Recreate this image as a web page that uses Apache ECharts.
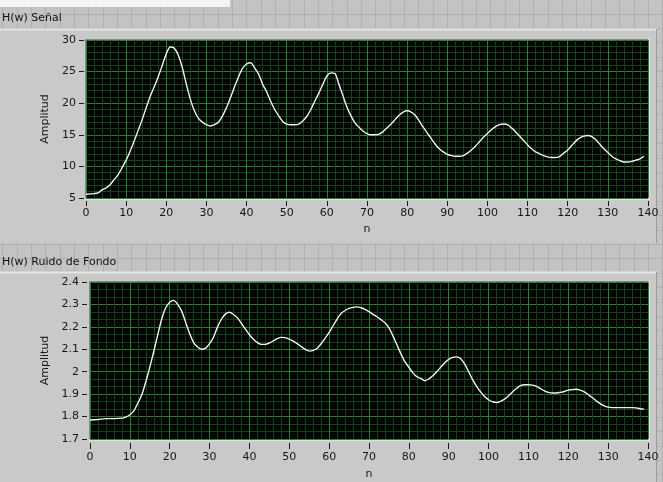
<!DOCTYPE html>
<html>
<head>
<meta charset="utf-8">
<script src="https://cdn.jsdelivr.net/npm/echarts@6/dist/echarts.min.js"></script>
<style>
  html, body { margin: 0; padding: 0; background: #c3c3c3; }
  #chart { width: 663px; height: 482px; }
</style>
</head>
<body>
<div id="chart"></div>
<script>
// Upper graph: H(w) of the signal, [n, amplitude]
const signalPoints = [
  [0,5.6],[2,5.7],[3,5.8],[4,6.3],[5,6.6],[6,7.1],[7,7.9],[8,8.7],[9,9.8],
  [10,11.0],[11,12.4],[12,14.0],[13,15.7],[14,17.4],[15,19.3],[16,21.1],[17,22.6],[18,24.2],[19,26.0],
  [20,27.8],[21,28.9],[22,28.7],[23,27.6],[24,25.6],[25,23.0],[26,20.6],[27,18.8],[28,17.6],[29,17.0],
  [30,16.6],[31,16.4],[32,16.6],[33,17.0],[34,18.0],[35,19.3],[36,20.9],[37,22.6],[38,24.2],[39,25.5],
  [40,26.2],[41,26.4],[42,25.6],[43,24.6],[44,23.0],[45,21.8],[46,20.3],[47,19.0],[48,18.0],[49,17.1],
  [50,16.7],[51,16.6],[52,16.6],[53,16.7],[54,17.2],[55,17.9],[56,19.0],[57,20.3],[58,21.6],[59,23.0],
  [60,24.3],[61,24.8],[62,24.7],[63,23.0],[64,21.2],[65,19.4],[66,18.0],[67,16.9],[68,16.2],[69,15.6],
  [70,15.2],[71,15.0],[72,15.0],[73,15.1],[74,15.5],[75,16.1],[76,16.7],[77,17.4],[78,18.1],[79,18.6],
  [80,18.8],[81,18.6],[82,18.1],[83,17.2],[84,16.2],[85,15.3],[86,14.4],[87,13.5],[88,12.8],[89,12.3],
  [90,11.9],[91,11.7],[92,11.6],[93,11.6],[94,11.7],[95,12.1],[96,12.6],[97,13.2],[98,13.9],[99,14.6],
  [100,15.2],[101,15.8],[102,16.3],[103,16.6],[104,16.7],[105,16.6],[106,16.1],[107,15.5],[108,14.8],[109,14.1],
  [110,13.4],[111,12.8],[112,12.3],[113,12.0],[114,11.7],[115,11.5],[116,11.4],[117,11.4],[118,11.6],[119,12.1],
  [120,12.6],[121,13.3],[122,14.0],[123,14.5],[124,14.8],[125,14.9],[126,14.7],[127,14.2],[128,13.5],[129,12.8],
  [130,12.2],[131,11.6],[132,11.2],[133,10.9],[134,10.7],[135,10.7],[136,10.8],[137,11.0],[138,11.2],[139,11.6]
];

// Lower graph: H(w) of the background noise, [n, amplitude]
const noisePoints = [
  [0,1.785],[2,1.787],[4,1.791],[6,1.791],[8,1.793],[9,1.798],
  [10,1.808],[11,1.825],[12,1.86],[13,1.897],[14,1.955],[15,2.02],[16,2.09],[17,2.165],[18,2.235],[19,2.285],
  [20,2.31],[21,2.318],[22,2.3],[23,2.27],[24,2.22],[25,2.17],[26,2.13],[27,2.11],[28,2.1],[29,2.105],
  [30,2.125],[31,2.155],[32,2.2],[33,2.235],[34,2.258],[35,2.265],[36,2.255],[37,2.24],[38,2.215],[39,2.19],
  [40,2.165],[41,2.145],[42,2.13],[43,2.122],[44,2.122],[45,2.128],[46,2.138],[47,2.148],[48,2.153],[49,2.152],
  [50,2.145],[51,2.136],[52,2.125],[53,2.112],[54,2.1],[55,2.092],[56,2.095],[57,2.105],[58,2.125],[59,2.15],
  [60,2.175],[61,2.205],[62,2.235],[63,2.26],[64,2.273],[65,2.282],[66,2.287],[67,2.289],[68,2.285],[69,2.278],
  [70,2.268],[71,2.256],[72,2.245],[73,2.232],[74,2.218],[75,2.195],[76,2.16],[77,2.12],[78,2.08],[79,2.045],
  [80,2.02],[81,1.995],[82,1.978],[83,1.97],[84,1.96],[85,1.968],[86,1.982],[87,2.0],[88,2.02],[89,2.04],
  [90,2.055],[91,2.064],[92,2.066],[93,2.058],[94,2.035],[95,2.0],[96,1.965],[97,1.935],[98,1.91],[99,1.89],
  [100,1.875],[101,1.866],[102,1.863],[103,1.868],[104,1.878],[105,1.892],[106,1.91],[107,1.925],[108,1.938],[109,1.942],
  [110,1.942],[111,1.94],[112,1.935],[113,1.925],[114,1.915],[115,1.908],[116,1.905],[117,1.905],[118,1.908],[119,1.912],
  [120,1.918],[121,1.92],[122,1.922],[123,1.918],[124,1.91],[125,1.898],[126,1.885],[127,1.87],[128,1.858],[129,1.848],
  [130,1.842],[131,1.84],[132,1.84],[133,1.84],[134,1.84],[135,1.84],[136,1.84],[137,1.839],[138,1.835],[139,1.833]
];

const graphTitles = ['H(w) Señal', 'H(w) Ruido de Fondo'];
const xName = 'n';
const yName = 'Amplitud';
const xRange = { min: 0, max: 140, interval: 10 };
const signalRange = { min: 5, max: 30, interval: 5 };
const noiseRange = { min: 1.7, max: 2.4, interval: 0.1 };

const FONT = 'DejaVu Sans';
const W = 663, H = 482;

// front panel backdrop: grey with a faint alignment grid, plus the two raised graph frames
const backdrop = [];
backdrop.push({ type: 'rect', shape: { x: 0, y: 0, width: W, height: H }, style: { fill: '#c3c3c3' }, z: -30 });
for (let x = 2.3; x < W; x += 14.35) {
  const px = Math.round(x) + 0.5;
  backdrop.push({ type: 'line', shape: { x1: px, y1: 0, x2: px, y2: H }, style: { stroke: '#b0b0b0', lineWidth: 1 }, z: -29 });
}
for (let y = 13.6 - 14.4; y < H; y += 14.4) {
  const py = Math.round(y) + 0.5;
  backdrop.push({ type: 'line', shape: { x1: 0, y1: py, x2: W, y2: py }, style: { stroke: '#b0b0b0', lineWidth: 1 }, z: -29 });
}
backdrop.push({ type: 'rect', shape: { x: 0, y: 0, width: 230, height: 7 }, style: { fill: '#f4f4f4' }, z: -28 });
function frame(y, h) {
  backdrop.push({ type: 'rect', shape: { x: 0, y: y, width: 657, height: h }, style: { fill: '#c9c9c9' }, z: -27 });
  backdrop.push({ type: 'line', shape: { x1: 0, y1: y + 0.5, x2: 657, y2: y + 0.5 }, style: { stroke: '#e6e6e6', lineWidth: 2 }, z: -26 });
  backdrop.push({ type: 'line', shape: { x1: 656.5, y1: y, x2: 656.5, y2: y + h }, style: { stroke: '#9c9c9c', lineWidth: 1 }, z: -26 });
}
frame(29, 214);
frame(272, 210);
// light inset edge along the right and bottom of each plot area
function plotEdge(x, y, w, h) {
  backdrop.push({ type: 'rect', shape: { x: x - 1, y: y - 1, width: w + 3, height: h + 3 }, style: { fill: '#e2e2e2' }, z: -25 });
  backdrop.push({ type: 'rect', shape: { x: x - 1, y: y - 1, width: w + 1, height: h + 1 }, style: { fill: '#8a8a8a' }, z: -24 });
}
plotEdge(86, 40, 562, 158);
plotEdge(90, 282, 558, 157);

const axisText = { color: '#161616', fontFamily: FONT, fontSize: 11 };
const majorGrid = { show: true, lineStyle: { color: '#1f8628', width: 1 } };
const minorGrid = { show: true, lineStyle: { color: '#0d4612', width: 1 } };
// the axis line is kept but fully faded, so only the outward tick marks show
const fadedLine = { show: true, onZero: false, lineStyle: { color: '#1a1a1a', width: 1, opacity: 0 } };
const tickStyle = { color: '#1a1a1a', width: 1, opacity: 1 };

function xAxisFor(gridIndex, offset, tickLen, margin, nameGap) {
  return {
    type: 'value', gridIndex, min: xRange.min, max: xRange.max, interval: xRange.interval,
    offset,
    name: xName, nameLocation: 'middle', nameGap,
    nameTextStyle: axisText,
    axisLine: fadedLine,
    axisTick: { show: true, inside: false, length: tickLen, lineStyle: tickStyle },
    axisLabel: Object.assign({ show: true, margin }, axisText),
    splitLine: majorGrid,
    minorTick: { show: false, splitNumber: 5 },
    minorSplitLine: minorGrid
  };
}
function yAxisFor(gridIndex, range, minorSplit, offset, nameGap) {
  return {
    type: 'value', gridIndex, min: range.min, max: range.max, interval: range.interval,
    offset,
    name: yName, nameLocation: 'middle', nameGap,
    nameTextStyle: axisText,
    axisLine: fadedLine,
    axisTick: { show: true, inside: false, length: 5, lineStyle: tickStyle },
    axisLabel: Object.assign({ show: true, margin: 8 }, axisText),
    splitLine: majorGrid,
    minorTick: { show: false, splitNumber: minorSplit },
    minorSplitLine: minorGrid
  };
}

const chart = echarts.init(document.getElementById('chart'), null, { renderer: 'canvas' });
chart.setOption({
  animation: false,
  backgroundColor: 'transparent',
  graphic: { elements: backdrop },
  title: [
    { text: graphTitles[0], left: 2, top: 13, padding: 0, textStyle: { fontFamily: FONT, fontSize: 11, fontWeight: 'normal', color: '#111' } },
    { text: graphTitles[1], left: 2, top: 257, padding: 0, textStyle: { fontFamily: FONT, fontSize: 11, fontWeight: 'normal', color: '#111' } }
  ],
  grid: [
    { left: 86, top: 40, width: 562, height: 158, show: true, backgroundColor: '#000', borderWidth: 0 },
    { left: 90, top: 282, width: 558, height: 157, show: true, backgroundColor: '#000', borderWidth: 0 }
  ],
  xAxis: [ xAxisFor(0, 3, 5, 7, 23), xAxisFor(1, 4, 6, 9, 26) ],
  yAxis: [ yAxisFor(0, signalRange, 5, 2, 28), yAxisFor(1, noiseRange, 3, 3, 31) ],
  series: [
    { type: 'line', xAxisIndex: 0, yAxisIndex: 0, data: signalPoints, showSymbol: false, smooth: 0.3,
      lineStyle: { color: '#f2f2f2', width: 1.4 } },
    { type: 'line', xAxisIndex: 1, yAxisIndex: 1, data: noisePoints, showSymbol: false, smooth: 0.3,
      lineStyle: { color: '#f2f2f2', width: 1.4 } }
  ]
});
</script>
</body>
</html>
